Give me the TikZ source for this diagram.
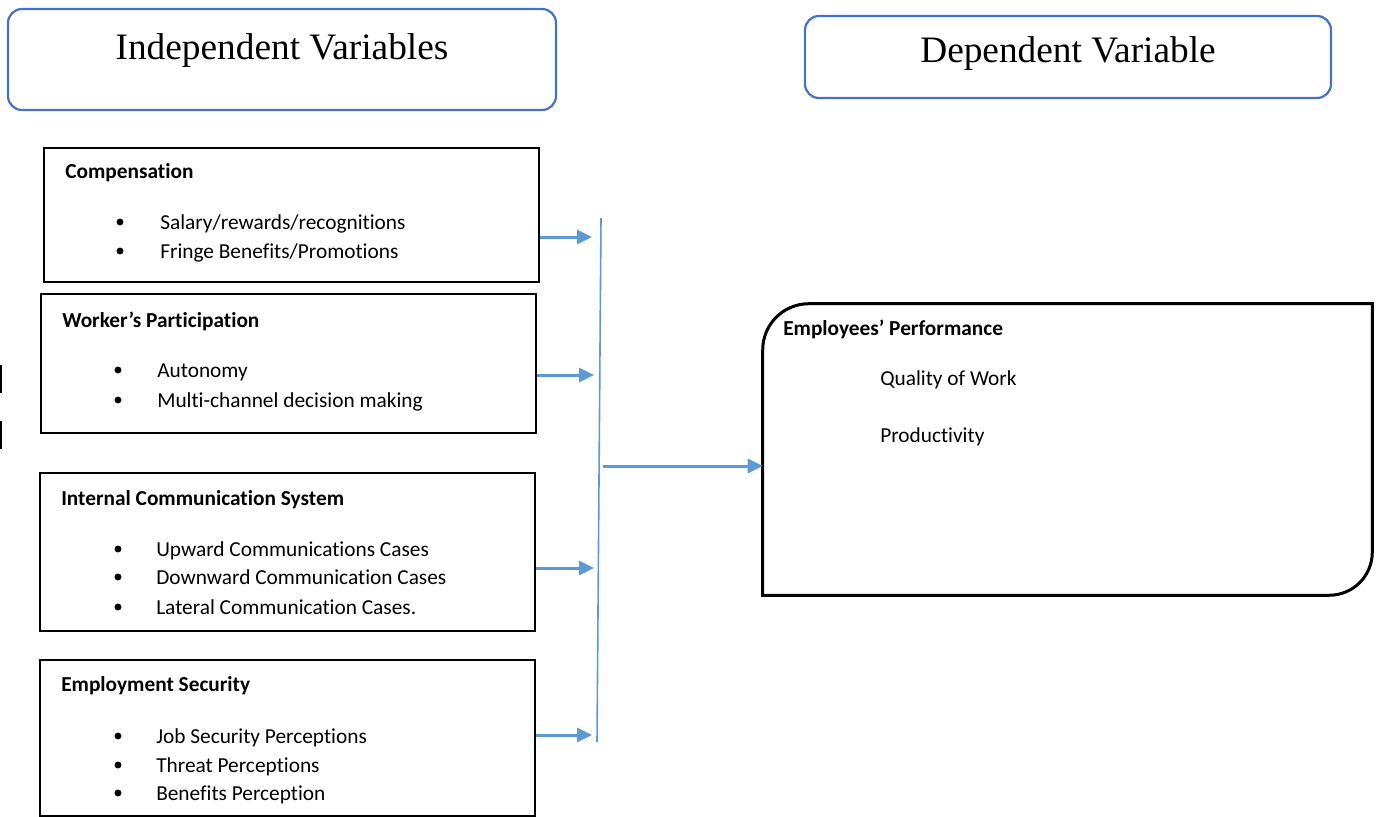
\documentclass[tikz,border=0pt]{standalone}
\usepackage{fontspec}
\setmainfont{Carlito}[RawFeature={-liga}]
\newfontfamily\titlefont{Liberation Serif}
\usetikzlibrary{arrows.meta,calc}
\definecolor{titleblue}{RGB}{68,114,196}
\definecolor{arrowblue}{RGB}{91,155,213}
\newdimen\px \px=0.75pt
\tikzset{
  titlebox/.style={draw=titleblue,line width=2.2*\px,rounded corners=10.5pt,inner sep=0pt},
  varbox/.style={draw=black,line width=2*\px,inner sep=0pt},
  titletext/.style={anchor=base,inner sep=0pt,font=\titlefont\fontsize{28pt}{32pt}\selectfont},
  head/.style={anchor=base west,inner sep=0pt,font=\fontsize{16pt}{19pt}\selectfont\bfseries},
  item/.style={anchor=base west,inner sep=0pt,font=\fontsize{16pt}{19pt}\selectfont},
  arr/.style={draw=arrowblue,line width=2.25pt,-{Triangle[length=11.25pt,width=10.5pt]}},
  bus/.style={draw=arrowblue,line width=1.2pt},
  edgemark/.style={draw=black,line width=1.5pt}
}
\newcommand{\bul}[1]{\fill (#1) circle (2.6pt);}
\begin{document}
\begin{tikzpicture}[x=0.75pt,y=-0.75pt]
\useasboundingbox (0,0) rectangle (1379,817);
% title boxes
\node[titlebox, minimum width=548*\px, minimum height=101*\px] (indep) at (282,59.5) {};
\node[titletext] (indepT) at (282,60) {Independent Variables};
\node[titlebox, minimum width=526*\px, minimum height=82*\px] (dep) at (1068,57) {};
\node[titletext] (depT) at (1068,63) {Dependent Variable};
% variable boxes
\node[varbox, minimum width=495*\px, minimum height=134*\px] (comp) at (291.5,215) {};
\node[varbox, minimum width=495*\px, minimum height=139*\px] (work) at (288.5,363.5) {};
\node[varbox, minimum width=495*\px, minimum height=158*\px] (comm) at (287.5,552) {};
\node[varbox, minimum width=495*\px, minimum height=156*\px] (sec) at (287.5,738) {};
% texts
\node[head] (compH) at (65,178) {Compensation};
\bul{120,222}
\node[item] (comp1) at (160,229) {Salary/rewards/recognitions};
\bul{120,251}
\node[item] (comp2) at (160,258) {Fringe Benefits/Promotions};

\node[head] (workH) at (62,327) {Worker’s Participation};
\bul{118,370}
\node[item] (work1) at (157,377) {Autonomy};
\bul{118,400}
\node[item] (work2) at (157,407) {Multi-channel decision making};

\node[head] (commH) at (61,505) {Internal Communication System};
\bul{118,549}
\node[item] (comm1) at (156,556) {Upward Communications Cases};
\bul{118,577}
\node[item] (comm2) at (156,584) {Downward Communication Cases};
\bul{118,607}
\node[item] (comm3) at (156,614) {Lateral Communication Cases.};

\node[head] (secH) at (61,691) {Employment Security};
\bul{118,736}
\node[item] (sec1) at (156,743) {Job Security Perceptions};
\bul{118,765}
\node[item] (sec2) at (156,772) {Threat Perceptions};
\bul{118,793}
\node[item] (sec3) at (156,800) {Benefits Perception};

% employees' performance box
\node[minimum width=609*\px, minimum height=291*\px, inner sep=0pt] (ep) at (1067.5,449.5) {};
\draw[line width=2.25pt,black]
  (ep.south west) -- ($(ep.north west)+(0,46)$)
  .. controls ($(ep.north west)+(0,20.6)$) and ($(ep.north west)+(20.6,0)$) .. ($(ep.north west)+(46,0)$)
  -- (ep.north east) -- ($(ep.south east)+(0,-43)$)
  .. controls ($(ep.south east)+(0,-19.3)$) and ($(ep.south east)+(-19.3,0)$) .. ($(ep.south east)+(-43,0)$)
  -- cycle;
\node[head] (epH) at (783,335) {Employees’ Performance};
\node[item] (ep1) at (880,385) {Quality of Work};
\node[item] (ep2) at (880,442) {Productivity};

% bus and arrows
\coordinate (busTop) at (601,218);
\coordinate (busBot) at (597,742);
\draw[bus] (busTop) -- (busBot);
\coordinate (t1) at (592,237);
\coordinate (t2) at (594,375);
\coordinate (t3) at (594,568);
\coordinate (t4) at (592,735);
\draw[arr] (comp.east |- t1) -- (t1);
\draw[arr] (work.east |- t2) -- (t2);
\draw[arr] (comm.east |- t3) -- (t3);
\draw[arr] (sec.east |- t4) -- (t4);
\coordinate (hub) at (603,466);
\draw[arr] (hub) -- (ep.west |- hub);

% stray marks at left edge
\coordinate (m1a) at (1,365); \coordinate (m1b) at (1,393);
\coordinate (m2a) at (1,421); \coordinate (m2b) at (1,449);
\draw[edgemark] (m1a) -- (m1b);
\draw[edgemark] (m2a) -- (m2b);
\end{tikzpicture}
\end{document}
